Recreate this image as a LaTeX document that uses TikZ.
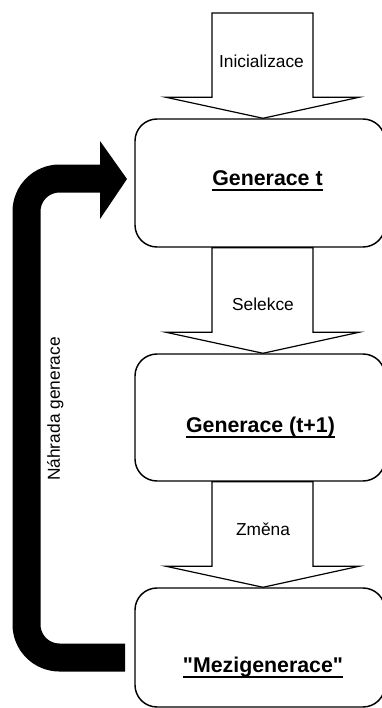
\documentclass[tikz,border=0pt]{standalone}
\usepackage{fontspec}
\setmainfont{Liberation Sans}[Ligatures=TeXOff]
\usetikzlibrary{calc}
\begin{document}
\begin{tikzpicture}[x=0.75pt,y=-0.75pt,
  box/.style={draw=black,line width=1.1pt,rounded corners=16.5pt,fill=white,inner sep=0pt,
    minimum width=187.5pt},
  barrow/.style={draw=black,line width=0.9pt,fill=white,line join=miter},
  lbl/.style={font=\fontsize{13}{15}\selectfont,inner sep=0pt,anchor=base},
  ttl/.style={font=\fontsize{16}{19}\selectfont\bfseries,inner sep=0pt,anchor=base},
  ul/.style={line width=1.3pt},
  loop/.style={line width=21pt,draw=black,rounded corners=24.75pt}]
\fill[white] (0,0) rectangle (382,708);
\clip (0,0) rectangle (382,708);
% boxes
\node[box,minimum height=96pt] (g1) at (260,183) {};
\node[box,minimum height=95.25pt] (g2) at (260,417.5) {};
\node[box,minimum height=89.25pt] (g3) at (260,647.5) {};
% initial arrow
\coordinate (itop) at (260,13);
\draw[barrow] ($(itop)+(-48,0)$) -- ($(g1.north)+(-48,-21)$) -- ($(g1.north)+(-94,-21)$)
  -- ($(g1.north)+(3,0)$) -- ($(g1.north)+(99,-21)$) -- ($(g1.north)+(53,-21)$)
  -- ($(itop)+(53,0)$) -- cycle;
\draw[barrow] ($(g1.south)+(-48,0)$) -- ($(g2.north)+(-48,-21)$) -- ($(g2.north)+(-94,-21)$)
  -- ($(g2.north)+(3,0)$) -- ($(g2.north)+(99,-21)$) -- ($(g2.north)+(53,-21)$)
  -- ($(g1.south)+(53,0)$) -- cycle;
\draw[barrow] ($(g2.south)+(-48,0)$) -- ($(g3.north)+(-48,-21)$) -- ($(g3.north)+(-94,-21)$)
  -- ($(g3.north)+(3,0)$) -- ($(g3.north)+(99,-21)$) -- ($(g3.north)+(53,-21)$)
  -- ($(g2.south)+(53,0)$) -- cycle;
% labels
\node[lbl] (li) at (261.5,67) {Inicializace};
\node[lbl] (ls) at (263,310) {Selekce};
\node[lbl] (lz) at (263,535) {Změna};
% titles
\node[ttl] (t1) at (267.5,185) {Generace t};
\node[ttl] (t2) at (260.5,432) {Generace (t+1)};
\node[ttl] (t3) at (263,672) {"Mezigenerace"};
\foreach \t in {t1,t2,t3}
  \draw[ul] ([yshift=-3.6pt]\t.base west) -- ([yshift=-3.6pt]\t.base east);
% feedback loop arrow
\coordinate (lstart) at (125,657.5);
\coordinate (lend) at (101,178.5);
\draw[loop] (lstart) -- (26.5,657.5) -- (26.5,178.5) -- (lend);
\fill[black] (100,141) -- (127,179) -- (100,219) -- cycle;
\node[font=\fontsize{13}{15}\selectfont,inner sep=0pt,anchor=base,rotate=90] (nh) at (60,409) {Náhrada generace};
\end{tikzpicture}
\end{document}
